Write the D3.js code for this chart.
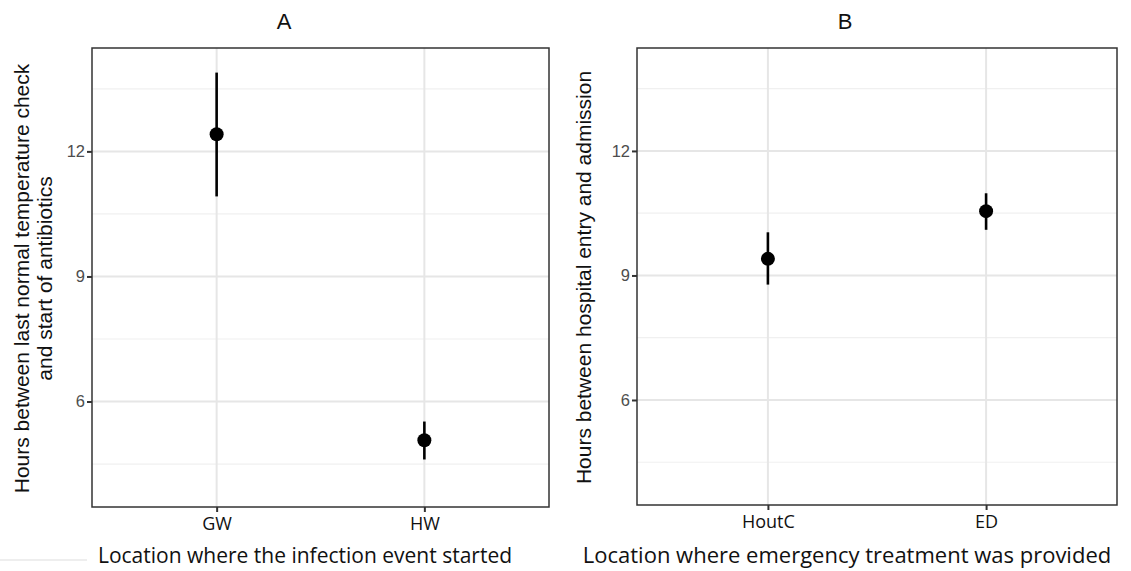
<!DOCTYPE html>
<html><head><meta charset="utf-8">
<script src="https://cdn.jsdelivr.net/npm/d3@7"></script>
<style>body{margin:0;background:#fff}svg{display:block}</style>
</head><body>
<svg id="c" width="1131" height="571"></svg>
<script>
// Data
const panelTitles = ["A", "B"];
const catsA = ["GW", "HW"];
const meanA = [12.41, 5.07];
const lowA = [10.92, 4.61];
const highA = [13.89, 5.52];
const catsB = ["HoutC", "ED"];
const meanB = [9.40, 10.55];
const lowB = [8.78, 10.10];
const highB = [10.04, 10.98];
const yTicks = [6, 9, 12];
const yMinor = [4.5, 7.5, 10.5, 13.5];
const yLabelA = ["Hours between last normal temperature check", "and start of antibiotics"];
const yLabelB = ["Hours between hospital entry and admission"];
const xTitleA = "Location where the infection event started";
const xTitleB = "Location where emergency treatment was provided";
const yDomain = [3.47, 14.48];

const svg = d3.select("#c");

function panel(cfg) {
  const {x0, x1, y0, y1, cats, mean, low, high, title, titleX, ylab, xtitle, ylabX, xtitleX, xtitleSize} = cfg;
  const x = d3.scalePoint().domain(cats).range([x0, x1]).padding(0.6);
  const y = d3.scaleLinear().domain(yDomain).range([y1, y0]);
  const g = svg.append("g");
  // minor grid
  g.selectAll(".mn").data(yMinor).join("line")
    .attr("x1", x0).attr("x2", x1).attr("y1", d => y(d)).attr("y2", d => y(d))
    .attr("stroke", "#f0f0f0").attr("stroke-width", 1.2);
  // major grid
  g.selectAll(".mj").data(yTicks).join("line")
    .attr("x1", x0).attr("x2", x1).attr("y1", d => y(d)).attr("y2", d => y(d))
    .attr("stroke", "#e6e6e6").attr("stroke-width", 2);
  g.selectAll(".vx").data(cats).join("line")
    .attr("x1", d => x(d)).attr("x2", d => x(d)).attr("y1", y0).attr("y2", y1)
    .attr("stroke", "#e6e6e6").attr("stroke-width", 2);
  // axes
  const ya = g.append("g").attr("transform", `translate(${x0},0)`)
    .call(d3.axisLeft(y).tickValues(yTicks).tickSize(5).tickPadding(2));
  ya.select(".domain").remove();
  ya.selectAll("line").attr("stroke", "#333").attr("stroke-width", 2);
  ya.selectAll("text").attr("fill", "#4d4d4d").attr("font-size", 16.5)
    .attr("font-family", "Liberation Sans, Arial, sans-serif");
  const xa = g.append("g").attr("transform", `translate(0,${y1})`)
    .call(d3.axisBottom(x).tickSize(5).tickPadding(5));
  xa.select(".domain").remove();
  xa.selectAll("line").attr("stroke", "#333").attr("stroke-width", 2);
  xa.selectAll("text").attr("fill", "#111").attr("font-size", 18)
    .attr("font-family", "Open Sans, sans-serif");
  // border
  g.append("rect").attr("x", x0).attr("y", y0).attr("width", x1 - x0).attr("height", y1 - y0)
    .attr("fill", "none").attr("stroke", "#333").attr("stroke-width", 1.5);
  // error bars
  g.selectAll(".eb").data(cats).join("line")
    .attr("x1", d => x(d)).attr("x2", d => x(d))
    .attr("y1", (d, i) => y(low[i])).attr("y2", (d, i) => y(high[i]))
    .attr("stroke", "#000").attr("stroke-width", 2.6);
  g.selectAll(".pt").data(cats).join("circle")
    .attr("cx", d => x(d)).attr("cy", (d, i) => y(mean[i])).attr("r", 7).attr("fill", "#000");
  // title
  g.append("text").attr("x", titleX).attr("y", 29).attr("text-anchor", "middle")
    .attr("font-size", 22).attr("font-family", "Liberation Sans, Arial, sans-serif").attr("fill", "#111")
    .text(title);
  // y label
  const cy = (y0 + y1) / 2 + 1;
  const yl = g.append("text").attr("transform", `translate(${ylabX},${cy}) rotate(-90)`)
    .attr("text-anchor", "middle").attr("font-size", 21)
    .attr("font-family", "Liberation Sans, Arial, sans-serif").attr("fill", "#111");
  ylab.forEach((t, i) => yl.append("tspan").attr("x", 0).attr("dy", i === 0 ? 0 : 23).text(t));
  // x title
  g.append("text").attr("x", xtitleX).attr("y", 563).attr("text-anchor", "middle")
    .attr("font-size", xtitleSize).attr("font-family", "Open Sans, sans-serif").attr("fill", "#111")
    .text(xtitle);
}

panel({x0: 92, x1: 549, y0: 48, y1: 507, cats: catsA, mean: meanA, low: lowA, high: highA,
  title: panelTitles[0], titleX: 284, ylab: yLabelA, xtitle: xTitleA, ylabX: 29, xtitleX: 305, xtitleSize: 21});
panel({x0: 637, x1: 1117, y0: 48, y1: 505, cats: catsB, mean: meanB, low: lowB, high: highB,
  title: panelTitles[1], titleX: 845, ylab: yLabelB, xtitle: xTitleB, ylabX: 591, xtitleX: 847, xtitleSize: 22});

// faint artifact line bottom-left
svg.append("line").attr("x1", 0).attr("x2", 87).attr("y1", 560).attr("y2", 560)
  .attr("stroke", "#e8e8e8").attr("stroke-width", 1.5);
</script>
</body></html>
